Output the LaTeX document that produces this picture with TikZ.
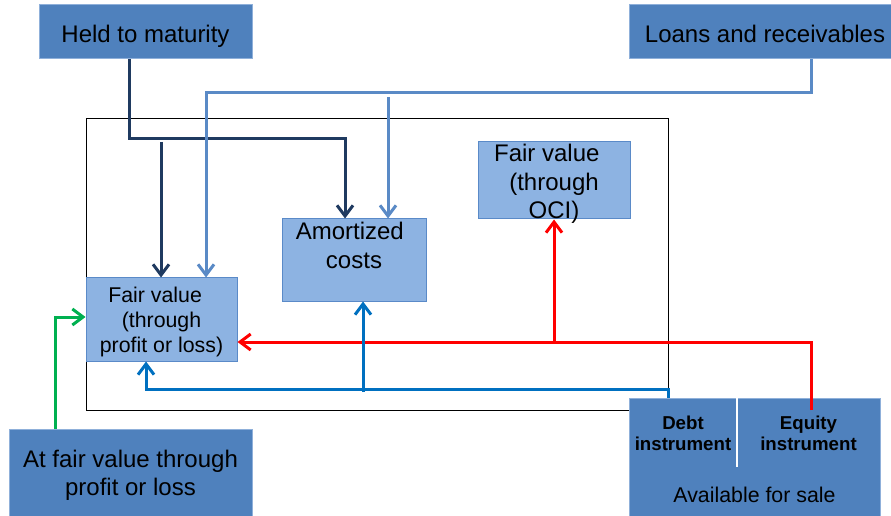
\documentclass[tikz,border=0pt]{standalone}
\usepackage{fontspec}
\setmainfont{Liberation Sans}
\usetikzlibrary{arrows.meta}

\definecolor{boxdark}{HTML}{4F81BD}
\definecolor{boxdarkedge}{HTML}{8FB0DA}
\definecolor{boxlight}{HTML}{8DB3E2}
\definecolor{boxlightedge}{HTML}{5A8AC8}
\definecolor{navyline}{HTML}{1F3A60}
\definecolor{loanline}{HTML}{5A8AC6}
\definecolor{debtline}{HTML}{0070C0}
\definecolor{equityline}{HTML}{FF0000}
\definecolor{tradeline}{HTML}{00B050}

\tikzset{
  darkbox/.style={fill=boxdark, draw=boxdarkedge, line width=0.75pt, inner sep=0pt},
  lightbox/.style={fill=boxlight, draw=boxlightedge, line width=0.75pt, inner sep=0pt},
  txtlarge/.style={align=center, inner sep=0pt, font=\fontsize{18}{21.3}\selectfont},
  txtmid/.style={align=center, inner sep=0pt, font=\fontsize{16}{18.75}\selectfont},
  txtbold/.style={align=center, inner sep=0pt, font=\fontsize{14}{16.3}\selectfont\bfseries},
  flow/.style={line width=2.25pt, -{Straight Barb[length=8pt,width=12pt]}},
}

\begin{document}
\begin{tikzpicture}[x=0.75pt,y=-0.75pt]
\useasboundingbox (0,0) rectangle (891,516);
\clip (0,0) rectangle (891,516);

% measurement categories frame
\draw[black, line width=0.75pt] (86,119) rectangle (668,410);

% source categories
\node[darkbox, minimum width=159.75pt, minimum height=40.5pt] (held) at (145.5,32) {};
\node[darkbox, minimum width=204pt, minimum height=40.5pt] (loans) at (765,32) {};
\node[darkbox, minimum width=182.25pt, minimum height=69pt] (atfv) at (130.5,475) {};
\node[darkbox, minimum width=188.25pt, minimum height=93pt] (afs) at (754.5,460) {};
\coordinate (divtop) at (737,398);
\coordinate (divbot) at (737,467);
\draw[white, line width=1pt] (divtop) -- (divbot);

% target categories
\node[lightbox, minimum width=108pt, minimum height=61.5pt] (amort) at (354,260) {};
\node[lightbox, minimum width=114pt, minimum height=57.75pt] (oci) at (554,180.5) {};
\node[lightbox, minimum width=113.25pt, minimum height=62.25pt] (fvpl) at (161.5,319.5) {};

% labels
\node[txtlarge] (heldtxt) at (145.5,36.2) {Held to maturity};
\node[txtlarge] (loanstxt) at (765,34.2) {Loans and receivables};
\node[txtlarge] (atfvtxt) at (130.5,475.5) {At fair value through\\profit or loss};
\node[txtmid] (afstxt) at (754.5,495) {Available for sale};
\node[txtbold] (debttxt) at (683,433.4) {Debt\\instrument};
\node[txtbold] (equitytxt) at (808.5,433.4) {Equity\\instrument};
\node[txtlarge] (amorttxt) at (354,245.5) {Amortized\rule{0.35em}{0pt}\\costs};
\node[txtlarge] (ocitxt) at (554,184) {Fair value\rule{0.6em}{0pt}\\(through\\OCI)};
\node[txtmid] (fvpltxt) at (161.5,321.5) {Fair value\rule{0.6em}{0pt}\\(through\\profit or loss)};

% bend points
\coordinate (n1) at (129,139);
\coordinate (n2) at (345,139);
\coordinate (n3) at (161,142);
\coordinate (l1) at (811,93);
\coordinate (l2) at (206,93);
\coordinate (l3) at (388,97);
\coordinate (g1) at (55,317);
\coordinate (eqtip) at (811,410);
\coordinate (r1) at (811,342);
\coordinate (r2) at (554,342);
\coordinate (b1) at (668,389);
\coordinate (b2) at (146,389);
\coordinate (b3) at (363,392);

% held to maturity
\draw[flow, navyline] (held.south -| n1) |- (n2) -- (amort.north -| n2);
\draw[flow, navyline] (n3) -- (fvpl.north -| n3);

% loans and receivables
\draw[flow, loanline] (loans.south -| l1) |- (l2) -- (fvpl.north -| l2);
\draw[flow, loanline] (l3) -- (amort.north -| l3);

% at fair value through profit or loss
\draw[flow, tradeline] (atfv.north -| g1) |- (fvpl.west |- g1);

% equity instruments
\draw[flow, equityline] (eqtip) |- (fvpl.east |- r1);
\draw[flow, equityline] (r2) -- (oci.south -| r2);

% debt instruments
\draw[flow, debtline] (afs.north -| b1) -- (b1) -- (b2) -- (fvpl.south -| b2);
\draw[flow, debtline] (b3) -- (amort.south -| b3);
\end{tikzpicture}
\end{document}
